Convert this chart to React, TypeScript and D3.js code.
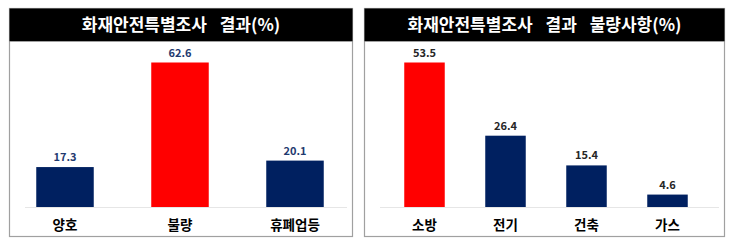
import React from 'react';
import * as d3 from 'd3';

const leftTitle = '화재안전특별조사 결과(%)';
const leftCats = ['양호', '불량', '휴폐업등'];
const leftVals = [17.3, 62.6, 20.1];
const leftHighlight = '불량';

const rightTitle = '화재안전특별조사 결과 불량사항(%)';
const rightCats = ['소방', '전기', '건축', '가스'];
const rightVals = [53.5, 26.4, 15.4, 4.6];
const rightHighlight = '소방';

const RED = '#ff0000';
const NAVY = '#002060';
const FONT = '"Noto Sans CJK KR", "Noto Sans", sans-serif';

interface PanelProps {
  x0: number;
  x1: number;
  title: string;
  cats: string[];
  vals: number[];
  highlight: string;
  bandStart: number;
  bandEnd: number;
  labelColor: string;
}

const Panel: React.FC<PanelProps> = ({ x0, x1, title, cats, vals, highlight, bandStart, bandEnd, labelColor }) => {
  const top = 8;
  const bottom = 237;
  const headerH = 33;
  const baseY = 207;

  const x = d3.scaleBand<string>()
    .domain(cats)
    .range([bandStart, bandEnd])
    .paddingInner(0.5)
    .paddingOuter(0.25);

  const y = d3.scaleLinear()
    .domain([0, d3.max(vals) as number])
    .range([baseY, 62.5]);

  return (
    <g>
      <rect x={x0 + 0.5} y={top + 0.5} width={x1 - x0 - 1} height={bottom - top - 1}
        fill="#fff" stroke="#a0a0a0" strokeWidth={1.2} />
      <rect x={x0 + 0.5} y={top + 0.5} width={x1 - x0 - 1} height={headerH} fill="#000" />
      <line x1={x0 + 0.5} x2={x1 - 0.5} y1={top + headerH + 0.5} y2={top + headerH + 0.5}
        stroke="#a0a0a0" strokeWidth={1.2} />
      <text x={(x0 + x1) / 2} y={top + headerH / 2 + 1.5} textAnchor="middle" dominantBaseline="middle"
        fill="#fff" fontSize={17} fontWeight="bold" wordSpacing={9}>{title}</text>
      <line x1={x0 + 16} x2={x1 - 6} y1={baseY + 0.5} y2={baseY + 0.5} stroke="#e6e6e6" />
      {cats.map((c, i) => (
        <g key={c}>
          <rect x={x(c)} y={y(vals[i])} width={x.bandwidth()} height={baseY - y(vals[i])}
            fill={c === highlight ? RED : NAVY} />
          <text x={(x(c) as number) + x.bandwidth() / 2} y={y(vals[i]) - 6} textAnchor="middle"
            fill={labelColor} fontSize={11} fontWeight="bold">{vals[i].toFixed(1)}</text>
          <text x={(x(c) as number) + x.bandwidth() / 2} y={230} textAnchor="middle"
            fill="#000" fontSize={13.5} fontWeight="bold">{c}</text>
        </g>
      ))}
    </g>
  );
};

export default function App() {
  return (
    <svg width={730} height={250} style={{ position: 'absolute', left: 0, top: 0, fontFamily: FONT }}>
      <rect width={730} height={250} fill="#fff" />
      <Panel x0={9} x1={353} title={leftTitle} cats={leftCats} vals={leftVals} highlight={leftHighlight}
        bandStart={7.5} bandEnd={352.5} labelColor="#1f3a70" />
      <Panel x0={364} x1={725} title={rightTitle} cats={rightCats} vals={rightVals} highlight={rightHighlight}
        bandStart={384} bandEnd={708} labelColor="#262626" />
    </svg>
  );
}
